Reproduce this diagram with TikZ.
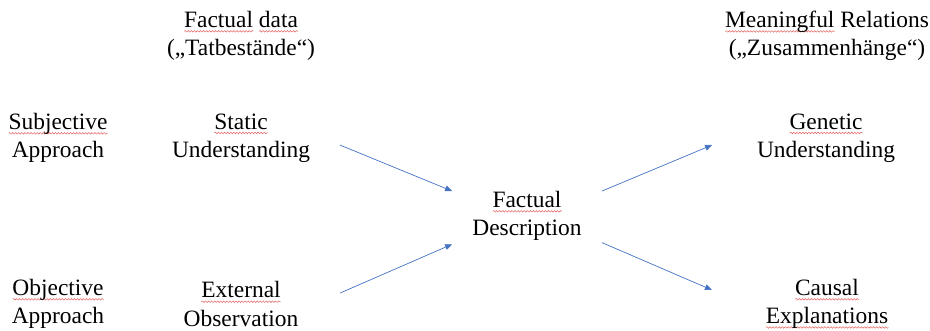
\documentclass[tikz,border=0pt]{standalone}
\usepackage{fontspec}
\setmainfont{Liberation Serif}
\usetikzlibrary{positioning, arrows.meta, calc, decorations.pathmorphing}
\definecolor{ArrowBlue}{HTML}{4472C4}
\definecolor{SpellRed}{HTML}{E05050}
\newcommand\spellmark[1]{\setbox0\hbox{#1}\rlap{\tikz[baseline=0pt]\draw[SpellRed, line width=0.35pt, decorate, decoration={snake, amplitude=0.7pt, segment length=2.6pt}] (0pt,-3.2pt) -- (\the\wd0,-3.2pt);}#1}

\begin{document}
\begin{tikzpicture}[
    term/.style={align=center, inner sep=0pt, font=\fontsize{20}{24}\selectfont},
    arrow/.style={-{Triangle[length=6pt, width=5pt]}, line width=0.6pt, color=ArrowBlue}
]
\useasboundingbox (0,0) rectangle (27.9,-9.93);

%%%%%%%%%%%%%%%%%%%%%%%%%%%%%%%%%%%%%%%%%%%%%%%%%%%%%%%%%%%%%%%%%%%
% Column headers
%%%%%%%%%%%%%%%%%%%%%%%%%%%%%%%%%%%%%%%%%%%%%%%%%%%%%%%%%%%%%%%%%%%
\node[term] (factdata) at (7.23, -1.08) {\spellmark{Factual} \spellmark{data}\\(„Tatbestände“)};
\node[term] (meaning) at (24.81, -1.08) {\spellmark{Meaningful} Relations\\(„Zusammenhänge“)};

%%%%%%%%%%%%%%%%%%%%%%%%%%%%%%%%%%%%%%%%%%%%%%%%%%%%%%%%%%%%%%%%%%%
% Subjective row
%%%%%%%%%%%%%%%%%%%%%%%%%%%%%%%%%%%%%%%%%%%%%%%%%%%%%%%%%%%%%%%%%%%
\node[term] (subjective) at (1.74, -4.14) {\spellmark{Subjective}\\Approach};
\node[term] (static) at (7.23, -4.14) {\spellmark{Static}\\Understanding};
\node[term] (genetic) at (24.78, -4.14) {\spellmark{Genetic}\\Understanding};

%%%%%%%%%%%%%%%%%%%%%%%%%%%%%%%%%%%%%%%%%%%%%%%%%%%%%%%%%%%%%%%%%%%
% Middle
%%%%%%%%%%%%%%%%%%%%%%%%%%%%%%%%%%%%%%%%%%%%%%%%%%%%%%%%%%%%%%%%%%%
\node[term] (factual) at (15.81, -6.48) {\spellmark{Factual}\\Description};

%%%%%%%%%%%%%%%%%%%%%%%%%%%%%%%%%%%%%%%%%%%%%%%%%%%%%%%%%%%%%%%%%%%
% Objective row
%%%%%%%%%%%%%%%%%%%%%%%%%%%%%%%%%%%%%%%%%%%%%%%%%%%%%%%%%%%%%%%%%%%
\node[term] (objective) at (1.74, -9.12) {\spellmark{Objective}\\Approach};
\node[term] (external) at (7.23, -9.12) {\spellmark{External}\\Observation};
\node[term] (causal) at (24.81, -9.12) {\spellmark{Causal}\\\spellmark{Explanations}};

%%%%%%%%%%%%%%%%%%%%%%%%%%%%%%%%%%%%%%%%%%%%%%%%%%%%%%%%%%%%%%%%%%%
% Connections
%%%%%%%%%%%%%%%%%%%%%%%%%%%%%%%%%%%%%%%%%%%%%%%%%%%%%%%%%%%%%%%%%%%
\draw[arrow] ($(static.east)+(0.89,-0.21)$) -- ([xshift=-0.6cm]factual.north west);
\draw[arrow] ($(external.east)+(1.25,0.33)$) -- ([xshift=-0.6cm, yshift=-0.1cm]factual.south west);
\draw[arrow] ([xshift=0.6cm]factual.north east) -- ($(genetic.west)+(-1.34,-0.21)$);
\draw[arrow] ([xshift=0.6cm, yshift=-0.05cm]factual.south east) -- ($(causal.west)+(-1.61,0.42)$);

\end{tikzpicture}
\end{document}
